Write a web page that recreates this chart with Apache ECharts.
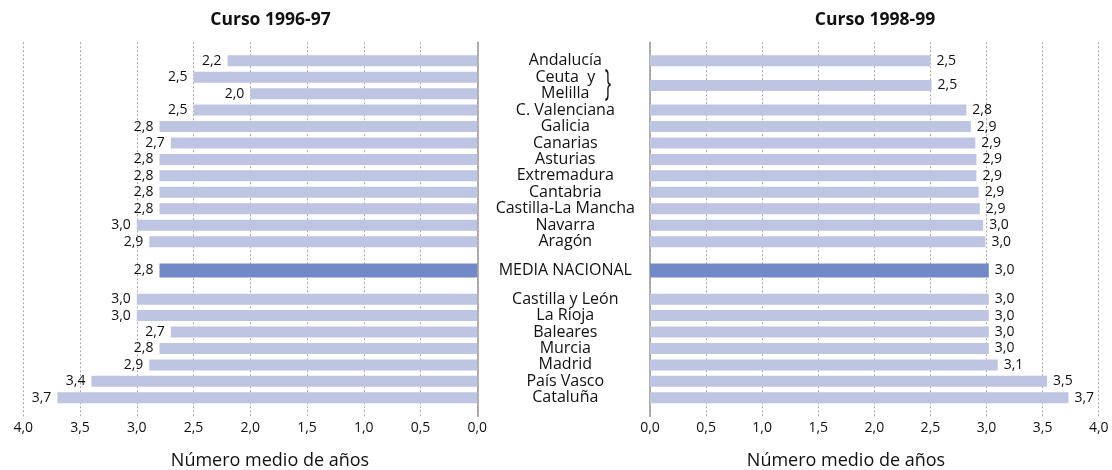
<!DOCTYPE html>
<html>
<head>
<meta charset="utf-8">
<script src="https://cdn.jsdelivr.net/npm/echarts@6/dist/echarts.min.js"></script>
<style>
  html, body { margin: 0; padding: 0; background: #fff; }
  #chart { width: 1112px; height: 470px; }
</style>
</head>
<body>
<div id="chart"></div>
<script>
// ---------------- DATA ----------------
const regions1996 = ['Andalucía', 'Ceuta  y', 'Melilla', 'C. Valenciana', 'Galicia', 'Canarias',
  'Asturias', 'Extremadura', 'Cantabria', 'Castilla-La Mancha', 'Navarra', 'Aragón',
  'MEDIA NACIONAL', 'Castilla y León', 'La Rioja', 'Baleares', 'Murcia', 'Madrid',
  'País Vasco', 'Cataluña'];
const curso1996 = [2.2, 2.5, 2.0, 2.5, 2.8, 2.7, 2.8, 2.8, 2.8, 2.8, 3.0, 2.89,
  2.8, 3.0, 3.0, 2.7, 2.8, 2.89, 3.4, 3.7];

const regions1998 = ['Andalucía', 'Ceuta y Melilla', 'C. Valenciana', 'Galicia', 'Canarias',
  'Asturias', 'Extremadura', 'Cantabria', 'Castilla-La Mancha', 'Navarra', 'Aragón',
  'MEDIA NACIONAL', 'Castilla y León', 'La Rioja', 'Baleares', 'Murcia', 'Madrid',
  'País Vasco', 'Cataluña'];
const curso1998 = [2.5, 2.51, 2.82, 2.86, 2.9, 2.91, 2.91, 2.93, 2.94, 2.97, 2.99,
  3.02, 3.02, 3.02, 3.02, 3.02, 3.1, 3.54, 3.73];

const titles = ['Curso 1996-97', 'Curso 1998-99'];
const axisTitle = 'Número medio de años';
const mediaName = 'MEDIA NACIONAL';

// ---------------- LAYOUT (quarter-row slots on a category axis) ----------------
const TOP_PAD = 4, ROW = 4, BOTTOM_PAD = 4;
const extraGap = { 'MEDIA NACIONAL': 7, 'Castilla y León': 7 };
const slotOf = {};
let s = TOP_PAD;
regions1996.forEach((r, i) => { if (i > 0) s += (extraGap[r] || ROW); slotOf[r] = s; });
slotOf['Ceuta y Melilla'] = (slotOf['Ceuta  y'] + slotOf['Melilla']) / 2;
const N = s + BOTTOM_PAD + 1;
const slotNames = [];
for (let i = 0; i < N; i++) slotNames.push('#' + i);
regions1996.forEach(r => { slotNames[slotOf[r]] = r; });

const FONT = '"Open Sans", "Noto Sans", sans-serif';
const LIGHT = '#bec5e3', DARK = '#7189c6', INK = '#111';
const fmt = v => v.toFixed(1).replace('.', ',');

function pairs(names, vals, wantMedia) {
  const out = [];
  names.forEach((n, i) => {
    if ((n === mediaName) === wantMedia) out.push([vals[i], slotOf[n]]);
  });
  return out;
}

const GRID_TOP = 42.3, GRID_H = 374;
const chart = echarts.init(document.getElementById('chart'));

function xAxisDef(grid, inverse) {
  return {
    gridIndex: grid, type: 'value', inverse: inverse, min: 0, max: 4, interval: 0.5,
    axisLine: { show: false }, axisTick: { show: false },
    splitLine: { show: true, lineStyle: { type: [2, 2], color: '#a8a8a8', width: 1 } },
    axisLabel: { formatter: v => fmt(v), fontSize: 14, color: INK, fontFamily: FONT, margin: 5 }
  };
}
function labelDef(pos) {
  return { show: true, position: pos, distance: 6, fontSize: 14, color: INK, fontFamily: FONT,
    formatter: p => fmt(p.value[0]) };
}

chart.setOption({
  animation: false,
  backgroundColor: '#fff',
  textStyle: { fontFamily: FONT },
  grid: [
    { left: 23.3, width: 454, top: GRID_TOP, height: GRID_H },
    { left: 650, width: 448.7, top: GRID_TOP, height: GRID_H }
  ],
  xAxis: [xAxisDef(0, true), xAxisDef(1, false)],
  yAxis: [
    { gridIndex: 0, type: 'category', data: slotNames, inverse: true, position: 'right',
      axisLine: { show: true, lineStyle: { color: '#999', width: 1.5 } },
      axisTick: { show: false }, splitLine: { show: false },
      axisLabel: { interval: 0, margin: 88, align: 'center', fontSize: 16, color: INK, fontFamily: FONT,
        formatter: v => (v.charAt(0) === '#' ? '' : v) } },
    { gridIndex: 0, type: 'category', data: slotNames, inverse: true, show: false },
    { gridIndex: 1, type: 'category', data: slotNames, inverse: true, position: 'left',
      axisLine: { show: true, lineStyle: { color: '#999', width: 1.5 } },
      axisTick: { show: false }, splitLine: { show: false }, axisLabel: { show: false } },
    { gridIndex: 1, type: 'category', data: slotNames, inverse: true, show: false }
  ],
  series: [
    { type: 'bar', xAxisIndex: 0, yAxisIndex: 0, barWidth: 11, data: pairs(regions1996, curso1996, false),
      itemStyle: { color: LIGHT }, label: labelDef('left') },
    { type: 'bar', xAxisIndex: 0, yAxisIndex: 1, barWidth: 14, data: pairs(regions1996, curso1996, true),
      itemStyle: { color: DARK }, label: labelDef('left') },
    { type: 'bar', xAxisIndex: 1, yAxisIndex: 2, barWidth: 11, data: pairs(regions1998, curso1998, false),
      itemStyle: { color: LIGHT }, label: labelDef('right') },
    { type: 'bar', xAxisIndex: 1, yAxisIndex: 3, barWidth: 14, data: pairs(regions1998, curso1998, true),
      itemStyle: { color: DARK }, label: labelDef('right') }
  ],
  graphic: [
    { type: 'text', x: 270.5, y: 20.5, style: { text: titles[0], font: 'bold 17.5px ' + FONT,
      fill: INK, textAlign: 'center', textVerticalAlign: 'middle' } },
    { type: 'text', x: 875, y: 20.5, style: { text: titles[1], font: 'bold 17.5px ' + FONT,
      fill: INK, textAlign: 'center', textVerticalAlign: 'middle' } },
    { type: 'text', x: 270, y: 461, style: { text: axisTitle, font: '18px ' + FONT,
      fill: INK, textAlign: 'center', textVerticalAlign: 'middle' } },
    { type: 'text', x: 846, y: 461, style: { text: axisTitle, font: '18px ' + FONT,
      fill: INK, textAlign: 'center', textVerticalAlign: 'middle' } },
    { type: 'text', x: 608, y: 84.5, scaleY: 2.1, style: { text: '}', font: '17px ' + FONT,
      fill: INK, textAlign: 'center', textVerticalAlign: 'middle' } }
  ]
});
</script>
</body>
</html>
